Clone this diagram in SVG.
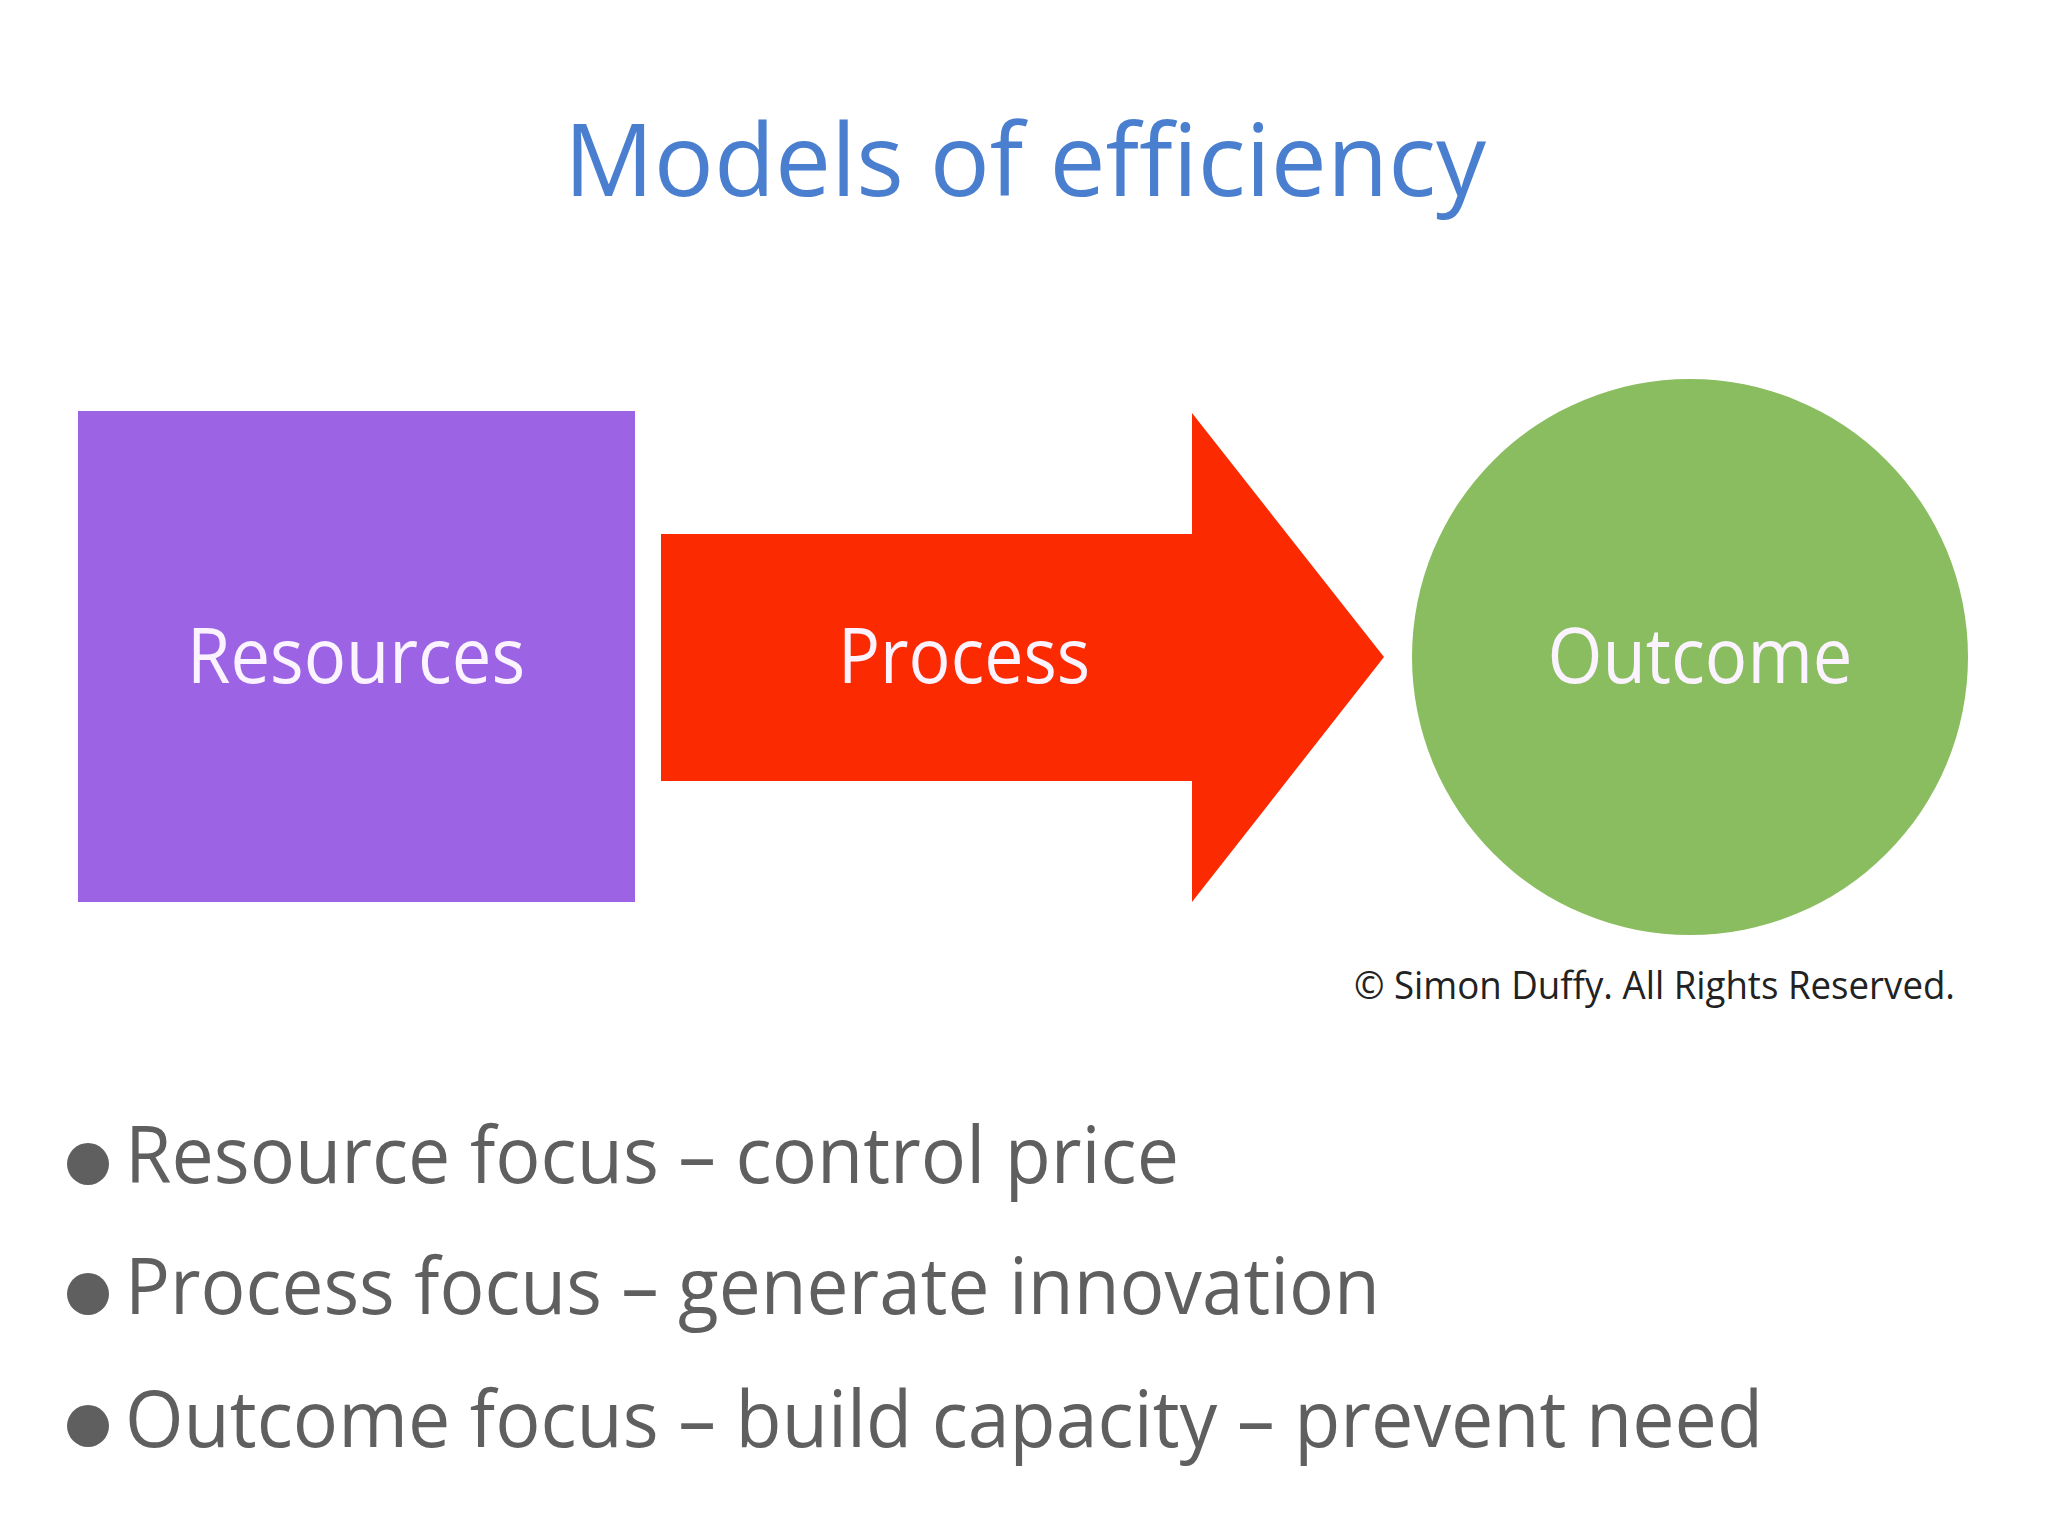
<svg xmlns="http://www.w3.org/2000/svg" width="2048" height="1536" viewBox="0 0 2048 1536">
<style>
text{font-family:"Open Sans","DejaVu Sans",sans-serif}
.title{font-size:100px;fill:#4a7fd0}
.label{font-size:76px;fill:#fbf3ff;text-anchor:middle}
.bullet{font-size:78px;fill:#5f5f5f}
.dot{fill:#5f5f5f}
.copy{font-size:38px;fill:#222}
</style>
<rect width="2048" height="1536" fill="#ffffff"/>
<text class="title" x="564" y="196" textLength="922" lengthAdjust="spacingAndGlyphs">Models of efficiency</text>
<g id="resources">
<rect x="78" y="411" width="557" height="491" fill="#9c63e4"/>
<text class="label" x="356" y="683" textLength="338" lengthAdjust="spacingAndGlyphs">Resources</text>
</g>
<g id="connectors">
<g id="process">
<polygon points="661,534 1192,534 1192,413 1384,657 1192,902 1192,781 661,781" fill="#fc2a00"/>
<text class="label" x="964" y="683" textLength="252" lengthAdjust="spacingAndGlyphs">Process</text>
</g>
</g>
<g id="outcome">
<circle cx="1690" cy="657" r="278" fill="#8abd5f"/>
<text class="label" x="1700" y="683" textLength="305" lengthAdjust="spacingAndGlyphs">Outcome</text>
</g>
<text class="copy" x="1354" y="999" textLength="601" lengthAdjust="spacingAndGlyphs">© Simon Duffy. All Rights Reserved.</text>
<g id="bullets">
<circle class="dot" cx="88" cy="1164" r="21"/>
<text class="bullet" x="125" y="1183" textLength="1054" lengthAdjust="spacingAndGlyphs">Resource focus – control price</text>
<circle class="dot" cx="88" cy="1294" r="21"/>
<text class="bullet" x="125" y="1314" textLength="1255" lengthAdjust="spacingAndGlyphs">Process focus – generate innovation</text>
<circle class="dot" cx="88" cy="1426" r="21"/>
<text class="bullet" x="125" y="1447" textLength="1638" lengthAdjust="spacingAndGlyphs">Outcome focus – build capacity – prevent need</text>
</g>
</svg>
